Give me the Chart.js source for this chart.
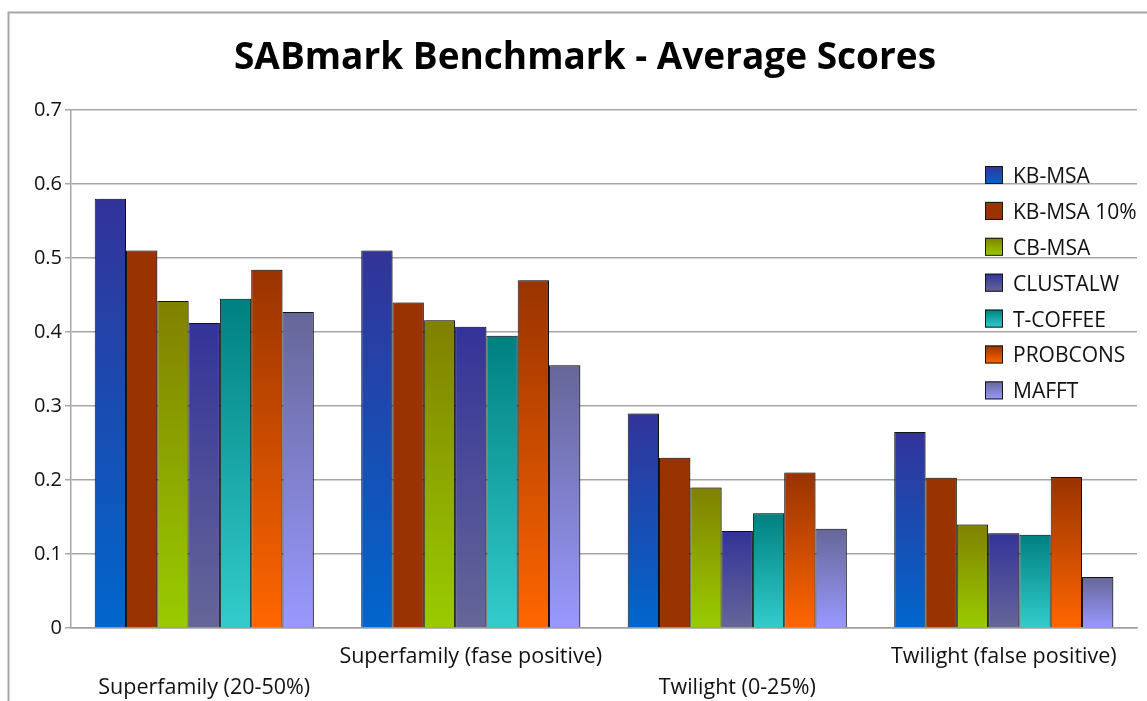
<!DOCTYPE html>
<html>
<head>
<meta charset="utf-8">
<script src="https://cdn.jsdelivr.net/npm/chart.js@4/dist/chart.umd.min.js"></script>
<style>
  html, body { margin: 0; padding: 0; background: #fff; }
  #chart { display: block; }
</style>
</head>
<body>
<canvas id="chart" width="1147" height="701"></canvas>
<script>
const categories = ["Superfamily (20-50%)", "Superfamily (fase positive)", "Twilight (0-25%)", "Twilight (false positive)"];
const seriesNames = ["KB-MSA", "KB-MSA 10%", "CB-MSA", "CLUSTALW", "T-COFFEE", "PROBCONS", "MAFFT"];

const kbMsa    = [0.58, 0.51, 0.29, 0.265];
const kbMsa10  = [0.51, 0.44, 0.23, 0.203];
const cbMsa    = [0.442, 0.416, 0.19, 0.14];
const clustalw = [0.412, 0.407, 0.131, 0.128];
const tCoffee  = [0.445, 0.395, 0.155, 0.126];
const probcons = [0.484, 0.47, 0.21, 0.204];
const mafft    = [0.427, 0.355, 0.134, 0.069];

const yTicks = [0, 0.1, 0.2, 0.3, 0.4, 0.5, 0.6, 0.7];

// top / bottom colour of each series' gradient
const shades = [
  ["#333399", "#0066cc"],
  ["#993300", "#993300"],
  ["#808000", "#99cc00"],
  ["#333399", "#666699"],
  ["#008080", "#33cccc"],
  ["#993300", "#ff6600"],
  ["#666699", "#9999ff"]
];

const FONT = '"Open Sans", "DejaVu Sans", sans-serif';

function barFill(top, bottom) {
  return (c) => {
    const chart = c.chart;
    if (!chart.chartArea || c.type !== "data") return bottom;
    const y = chart.scales.y;
    const y0 = y.getPixelForValue(c.parsed.y);
    const y1 = y.getPixelForValue(0);
    if (!isFinite(y0) || !isFinite(y1) || y0 === y1) return bottom;
    const g = chart.ctx.createLinearGradient(0, y0, 0, y1);
    g.addColorStop(0, top);
    g.addColorStop(1, bottom);
    return g;
  };
}

const values = [kbMsa, kbMsa10, cbMsa, clustalw, tCoffee, probcons, mafft];
const datasets = values.map((data, i) => ({
  label: seriesNames[i],
  data: data,
  backgroundColor: barFill(shades[i][0], shades[i][1]),
  borderColor: "#151515",
  borderWidth: 1,
  categoryPercentage: 0.822,
  barPercentage: 1
}));

// outer frame, title and the legend box on the right
const decorations = {
  id: "decorations",
  beforeDraw(chart) {
    const ctx = chart.ctx;
    ctx.save();
    ctx.strokeStyle = "#a8a8a8";
    ctx.lineWidth = 2;
    ctx.beginPath();
    ctx.moveTo(8.5, 701);
    ctx.lineTo(8.5, 12.5);
    ctx.lineTo(1147, 12.5);
    ctx.stroke();
    ctx.restore();
  },
  beforeDatasetsDraw(chart) {
    const ctx = chart.ctx;
    ctx.save();
    ctx.shadowColor = "rgba(0,0,0,0.35)";
    ctx.shadowOffsetX = 2;
    ctx.shadowOffsetY = 0;
    ctx.shadowBlur = 2;
  },
  afterDatasetsDraw(chart) {
    chart.ctx.restore();
  },
  afterDraw(chart) {
    const ctx = chart.ctx;
    ctx.save();
    ctx.fillStyle = "#000";
    ctx.font = "bold 37px " + FONT;
    ctx.textAlign = "center";
    ctx.textBaseline = "middle";
    ctx.fillText("SABmark Benchmark - Average Scores", 585, 58);

    ctx.font = "21px " + FONT;
    ctx.textAlign = "left";
    chart.data.datasets.forEach((ds, i) => {
      const cy = 175 + i * 35.9;
      const g = ctx.createLinearGradient(0, cy - 9, 0, cy + 9);
      g.addColorStop(0, shades[i][0]);
      g.addColorStop(1, shades[i][1]);
      ctx.fillStyle = g;
      ctx.fillRect(985, cy - 9, 18, 18);
      ctx.strokeStyle = "#151515";
      ctx.lineWidth = 1;
      ctx.strokeRect(985.5, cy - 8.5, 17, 17);
      ctx.fillStyle = "#111";
      ctx.fillText(ds.label, 1013, cy + 2);
    });
    ctx.restore();
  }
};

new Chart(document.getElementById("chart"), {
  type: "bar",
  data: { labels: categories, datasets: datasets },
  options: {
    responsive: false,
    animation: false,
    layout: { padding: { top: 110, right: 10, left: 0, bottom: 0 } },
    plugins: {
      legend: { display: false },
      title: { display: false },
      tooltip: { enabled: false }
    },
    scales: {
      x: {
        grid: { display: false },
        border: { display: true, color: "#a0a0a0", width: 1.5 },
        ticks: {
          color: "#111",
          font: { family: FONT, size: 21.5, lineHeight: 1.42 },
          padding: 6,
          maxRotation: 0,
          autoSkip: false,
          // alternate labels between two rows
          callback: (v, i) => i % 2 === 0 ? ["", categories[i]] : [categories[i], ""]
        },
        afterFit: (s) => { s.height = 73; }
      },
      y: {
        min: 0,
        max: 0.7,
        afterBuildTicks: (s) => { s.ticks = yTicks.map(v => ({ value: v })); },
        grid: { color: "#a6a6a6", lineWidth: 1.5, tickLength: 6 },
        border: { display: true, color: "#a6a6a6", width: 1.5 },
        ticks: {
          color: "#111",
          font: { family: FONT, size: 20 },
          padding: 3,
          callback: (v) => v === 0 ? "0" : v.toFixed(1)
        },
        afterFit: (s) => { s.width = 71; }
      }
    }
  },
  plugins: [decorations]
});
</script>
</body>
</html>
